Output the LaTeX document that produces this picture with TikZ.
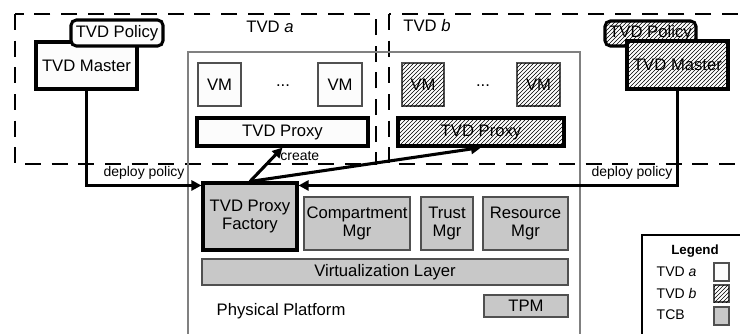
\documentclass[tikz,border=0pt]{standalone}
\usepackage{fontspec}
\setmainfont{Liberation Sans}
\usetikzlibrary{patterns,arrows.meta}
\definecolor{tcbgray}{RGB}{200,200,200}
\definecolor{edgegray}{RGB}{80,80,80}
\definecolor{paper}{RGB}{252,252,252}
\tikzset{
  box/.style={draw=edgegray, line width=0.9pt, inner sep=0pt, align=center},
  boxsize/.style 2 args={minimum width=#1*0.75pt, minimum height=#2*0.75pt},
  tvda/.style={box, fill=paper},
  tvdb/.style={box, fill=white, postaction={pattern=north east lines}},
  tcb/.style={box, fill=tcbgray},
  heavy/.style={draw=black, line width=2.3pt},
  region/.style={line width=1.5pt, dash pattern=on 12pt off 8pt},
  flow/.style={line width=2.3pt, -{Triangle[length=7.5pt,width=7.5pt]}},
  smalltext/.style={font=\fontsize{10.5}{12}\selectfont}
}

\begin{document}
\begin{tikzpicture}[x=0.75pt,y=-0.75pt,font=\fontsize{12.5}{13.5}\selectfont]
\clip (0,0) rectangle (740,333);
\draw[region] (15,14) rectangle (376,164);
\draw[region] (389,14) rectangle (760,164);
\draw[gray, line width=0.8pt] (188,52) rectangle (580,345);

\node (labela) at (270,27) {TVD \textit{a}};
\node (labelb) at (427,26) {TVD \textit{b}};

\node[tvda, heavy, boxsize={101}{47}] (mastera) at (86.5,65.5) {TVD Master};
\node[tvda, heavy, rounded corners=4pt, boxsize={92}{26}] (policya) at (117,33) {TVD Policy};
\node[tvdb, heavy, rounded corners=4pt, boxsize={91}{25}] (policyb) at (650.5,33.5) {TVD Policy};
\node[tvdb, heavy, boxsize={101}{48}] (masterb) at (677.5,65) {TVD Master};

\node[tvda, boxsize={43}{43}] (vma1) at (219.5,84.5) {VM};
\node[tvda, boxsize={44}{43}] (vma2) at (340,84.5) {VM};
\node (dotsa) at (283,86) {...};
\node[tvda, heavy, boxsize={171}{28}] (proxya) at (282.5,132) {TVD Proxy};

\node[tvdb, boxsize={42}{43}] (vmb1) at (423,84.5) {VM};
\node[tvdb, boxsize={43}{43}] (vmb2) at (538.5,84.5) {VM};
\node (dotsb) at (483,86) {...};
\node[tvdb, heavy, boxsize={166}{28}] (proxyb) at (481,132) {TVD Proxy};

\node[tcb, heavy, boxsize={94}{67}] (factory) at (250,216.5) {TVD Proxy\\Factory};
\node[tcb, boxsize={106}{53}] (cmgr) at (357,223.5) {Compartment\\Mgr};
\node[tcb, boxsize={52}{53}] (tmgr) at (447,223.5) {Trust\\Mgr};
\node[tcb, boxsize={85}{53}] (rmgr) at (525.5,223.5) {Resource\\Mgr};
\node[tcb, boxsize={366}{26}] (virt) at (385,272) {Virtualization Layer};
\node[tcb, boxsize={84}{22}] (tpm) at (526,306) {TPM};
\node[anchor=west] (platform) at (212,311) {Physical Platform};

\draw[flow] (mastera.south) |- ([yshift=-3pt]factory.north west) node[smalltext, pos=0.75, above] {deploy policy};
\draw[flow] (masterb.south) |- ([yshift=-3pt]factory.north east) node[smalltext, pos=0.56, above] {deploy policy};
\draw[flow] (factory.north) -- (proxya.south) node[smalltext, pos=0.75, right] {create};
\draw[flow] (factory.north) -- (proxyb.south);

\draw[line width=1.1pt] (642,235) rectangle (760,345);
\node[smalltext, font=\bfseries] (legend) at (695,251) {Legend};
\node[smalltext, anchor=west] (keya) at (652,272) {TVD \textit{a}};
\node[smalltext, anchor=west] (keyb) at (652,293) {TVD \textit{b}};
\node[smalltext, anchor=west] (keytcb) at (652,315) {TCB};
\node[tvda, boxsize={15}{18}] (swatcha) at (721.5,272) {};
\node[tvdb, boxsize={15}{17}] (swatchb) at (721.5,293.5) {};
\node[tcb, boxsize={15}{18}] (swatchtcb) at (721.5,316) {};
\end{tikzpicture}
\end{document}
